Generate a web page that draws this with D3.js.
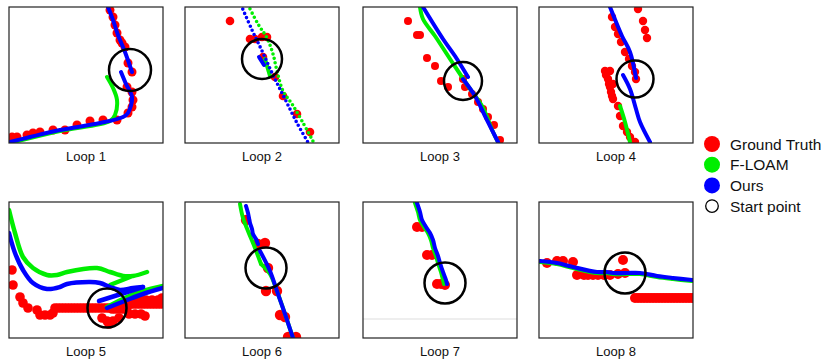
<!DOCTYPE html>
<html>
<head>
<meta charset="utf-8">
<script src="https://cdn.jsdelivr.net/npm/d3@7.9.0/dist/d3.min.js"></script>
<style>
  body { margin: 0; background: #fff; }
  text { font-family: "Liberation Sans", Arial, sans-serif; }
</style>
</head>
<body>
<svg id="chart" width="827" height="359"></svg>
<script>
// local panel coordinates: x 0..154 to the right, y 0..136 upwards
const loopLabels = ['Loop 1', 'Loop 2', 'Loop 3', 'Loop 4', 'Loop 5', 'Loop 6', 'Loop 7', 'Loop 8'];

const truth1 = [[101,133],[104,126],[106,118],[108,110],[111,103],[113,100],[116,96],[119,80],[123,71],[118,56],[123,51],[124,43],[123,36],[119,30],[108,23],[94,23],[81,22],[68,18],[56,13],[44,13],[31,11],[24,10],[18,8],[8,6],[3,6],[4,3]];
const floam1 = [[[98,66],[104,55],[108,43],[106,28],[101,22],[51,12],[1,0]]];
const ours1 = [[[99,136],[104,123],[109,108],[116,91],[123,71]],
               [[112,71],[117,59],[123,46],[119,30],[114,26],[91,20],[51,13],[21,6],[1,1]]];

const truth2 = [[45,122],[65,104],[70,104],[77,106],[82,106],[78,86],[90,66],[98,47],[112,29],[125,11]];
const floam2 = [[[63,138],[73,119],[82,105],[88,89],[92,72],[98,52],[107,39],[117,22],[129,0]],
                [[80,84],[85,67]]];
const ours2 = [[[56,138],[67,113],[78,90],[88,68],[100,44],[112,20],[124,-1]],
               [[74,86],[79,78]]];

const truth3 = [[45,122],[54,108],[57,108],[64,85],[72,77],[78,62],[85,56],[100,64],[102,56],[109,49],[115,41],[120,34],[125,26],[131,18],[137,3]];
const floam3 = [[[57,136],[60,124],[72,107],[89,81],[105,57],[119,37],[130,11],[135,1]]];
const ours3 = [[[60,136],[80,104],[92,87],[105,66]],
               [[100,64],[112,47],[122,27],[135,1]]];

const truth4 = [[99,134],[104,122],[106,113],[108,105],[73,126],[76,116],[79,109],[82,101],[86,91],[90,84],[93,77],[96,71],[97,64],
                [66,72],[71,72],[67,68],[69,64],[70,59],[74,59],[71,56],[72,51],[73,47],[74,44],[79,37],[81,27],[84,17],[88,11],[91,6],[96,1]];
const floam4 = [[[81,37],[86,21],[91,1]]];
const ours4 = [[[71,136],[83,107],[91,91],[97,65]],
               [[84,68],[91,54],[97,34],[101,21],[111,1]]];

const truth5 = [[3,68],[4,53],[11,41],[14,35],[19,30],[28,28],[31,23],[36,23],[41,23],[44,25],
                [46,30],[49,30],[52,30],[55,30],[58,30],[61,30],[64,30],[67,30],[70,30],[73,30],[76,30],[79,30],[82,30],[85,30],[88,30],
                [91,30],[94,30],[97,30],[100,30],[103,29],[106,29],[109,29],[112,29],[115,29],[118,30],
                [116,34],[119,34],[122,34],[125,34],[128,34],[131,34],[134,34],[137,34],[140,34],[143,34],[146,34],[149,34],[152,34],
                [119,38],[125,38],[131,38],[137,38],[143,38],[149,38],[153,40],
                [93,20],[98,17],[104,17],[110,20],[100,14],[120,24],[126,24],[132,24],[136,22]];
const floam5 = [[[0,128],[6,105],[14,81],[24,70],[38,63],[48,63],[58,66],[88,70],[101,66],[114,62],[124,62],[138,66]],
                [[101,53],[121,61]],
                [[98,31],[118,41],[134,47],[154,52]]];
const ours5 = [[[0,105],[6,85],[14,68],[24,55],[38,49],[51,51],[58,54],[81,56],[91,55],[101,51],[111,48],[124,50],[134,51]],
               [[90,37],[134,51]],
               [[98,30],[118,38],[134,44],[154,50]]];

const truth6 = [[80,95],[73,94],[83,70],[81,47],[92,47],[95,23],[100,21],[103,1],[111,1],[61,118]];
const floam6 = [[[55,134],[58,120],[63,107],[70,90],[76,74]],
                [[76,74],[85,64],[93,44],[100,24],[108,0]]];
const ours6 = [[[61,132],[63,125],[65,115],[67,109],[68,104],[71,99],[73,94]],
               [[75,87],[85,67],[93,44],[100,24],[108,0]]];

const truth7 = [[54,111],[59,111],[64,83],[69,83],[74,54],[78,54],[82,53]];
const floam7 = [[[52,135],[55,126],[57,118],[61,111],[65,105],[68,98],[70,90],[73,82],[75,75],[78,66],[80,58],[81,54]]];
const ours7 = [[[54,135],[57,126],[59,118],[63,111],[67,105],[70,98],[72,90],[75,82],[77,75],[80,66],[83,58],[84,54]]];

const truth8 = [[8,75],[18,77],[24,77],[34,76],[38,63],[45,63],[49,63],[54,63],[59,63],[65,63],[71,63],[79,64],[86,65],[84,78],
                [96,40],[99,40],[102,40],[105,40],[108,40],[111,40],[114,40],[117,40],[120,40],[123,40],[126,40],[129,40],
                [132,40],[135,40],[138,40],[141,40],[144,40],[147,40],[150,40],[153,40]];
const floam8 = [[[1,76],[18,74],[34,70],[58,65],[68,65],[74,64],[88,64],[101,64],[118,61],[134,59],[153,57]]];
const ours8 = [[[1,77],[18,75],[34,71],[58,66],[68,66],[74,65],[88,65],[101,65],[118,62],[134,60],[153,58]]];

// start point circles [x, y, radius]
const startPoints = [[121,73,21],[77,84,20],[100,62,19],[96,64,18.5],[98,30,19.5],[81,70,20.5],[82,55,20.5],[86,65,20.5]];

const legendNames = ['Ground Truth', 'F-LOAM', 'Ours', 'Start point'];
const legendColors = ['#ff0000', '#00ee00', '#0000ff', 'none'];

const truths = [truth1, truth2, truth3, truth4, truth5, truth6, truth7, truth8];
const floams = [floam1, floam2, floam3, floam4, floam5, floam6, floam7, floam8];
const ours = [ours1, ours2, ours3, ours4, ours5, ours6, ours7, ours8];

// per-panel drawing style
const dotR = [4.5, 4.3, 4, 4.2, 4.8, 5.2, 5, 5];
const lineW = [4, 4, 4, 4, 4.5, 4, 4, 4.2];
const dotted = [false, true, false, false, false, false, false, false];

const svg = d3.select('#chart');
const W = 154, H = 136;
const lefts = [9, 185, 363, 539];
const tops = [7, 202];

loopLabels.forEach((label, i) => {
  const left = lefts[i % 4];
  const top = tops[Math.floor(i / 4)];
  const x = d3.scaleLinear().domain([0, W]).range([left, left + W]);
  const y = d3.scaleLinear().domain([0, H]).range([top + H, top]);
  const line = d3.line().x(d => x(d[0])).y(d => y(d[1])).curve(d3.curveCatmullRom);

  svg.append('clipPath').attr('id', 'clip' + i)
    .append('rect').attr('x', left).attr('y', top).attr('width', W).attr('height', H);

  const g = svg.append('g').attr('clip-path', `url(#clip${i})`);

  if (i === 6) {
    g.append('line')
      .attr('x1', x(0)).attr('x2', x(W))
      .attr('y1', y(19)).attr('y2', y(19))
      .attr('stroke', '#ddd').attr('stroke-width', 1);
  }

  g.selectAll('circle.truth').data(truths[i]).join('circle')
    .attr('class', 'truth')
    .attr('cx', d => x(d[0])).attr('cy', d => y(d[1]))
    .attr('r', dotR[i]).attr('fill', '#ff0000');

  const drawSeries = (segs, color) => {
    segs.forEach((seg, k) => {
      const p = g.append('path').attr('d', line(seg))
        .attr('fill', 'none').attr('stroke', color)
        .attr('stroke-linecap', 'round').attr('stroke-linejoin', 'round');
      if (dotted[i] && k === 0) {
        p.attr('stroke-width', 3.6).attr('stroke-dasharray', '0 4.6');
      } else {
        p.attr('stroke-width', lineW[i]);
      }
    });
  };
  drawSeries(floams[i], '#00ee00');
  drawSeries(ours[i], '#0000ff');

  const s = startPoints[i];
  svg.append('circle')
    .attr('cx', x(s[0])).attr('cy', y(s[1]))
    .attr('r', x(s[2]) - x(0))
    .attr('fill', 'none').attr('stroke', '#000').attr('stroke-width', 2.5);

  svg.append('rect')
    .attr('x', left).attr('y', top).attr('width', W).attr('height', H)
    .attr('fill', 'none').attr('stroke', '#222').attr('stroke-width', 1.2);

  svg.append('text')
    .attr('x', left + W / 2).attr('y', top + H + 18)
    .attr('text-anchor', 'middle')
    .attr('font-size', 13).attr('fill', '#111')
    .text(label);
});

// legend
const legend = svg.append('g');
legendNames.forEach((name, i) => {
  const cy = 144 + i * 20.7;
  legend.append('circle')
    .attr('cx', 712).attr('cy', cy)
    .attr('r', legendColors[i] === 'none' ? 6.3 : 8)
    .attr('fill', legendColors[i] === 'none' ? '#fff' : legendColors[i])
    .attr('stroke', legendColors[i] === 'none' ? '#000' : 'none')
    .attr('stroke-width', 1.3);
  legend.append('text')
    .attr('x', 730).attr('y', cy + 5.5)
    .attr('font-size', 15.5).attr('fill', '#111')
    .text(name);
});
</script>
</body>
</html>
